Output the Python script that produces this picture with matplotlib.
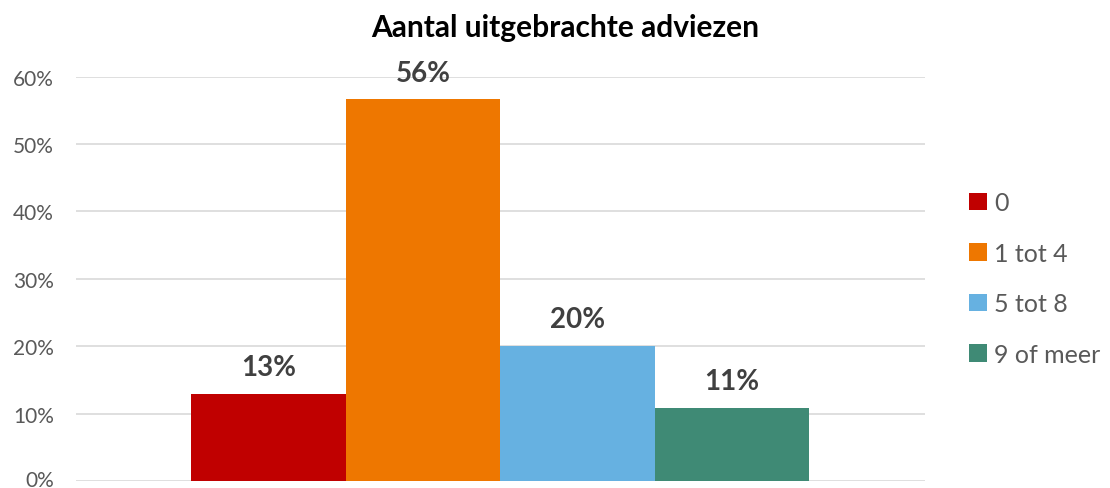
import numpy as np
import matplotlib.pyplot as plt
import matplotlib.transforms as mtransforms
from matplotlib.ticker import PercentFormatter

# Data
categories = ["0", "1 tot 4", "5 tot 8", "9 of meer"]
values = [0.129, 0.566, 0.200, 0.108]
labels = ["13%", "56%", "20%", "11%"]
colors = ["#C00000", "#EE7700", "#66B1E1", "#3F8A75"]

plt.rcParams["font.family"] = ["Lato", "DejaVu Sans"]

fig = plt.figure(figsize=(11.1, 4.89), dpi=100)
ax = fig.add_axes([0.0685, 0.0143, 0.7645, 0.8272])

width = 0.182
offsets = (np.arange(len(categories)) - 1.5) * width
for off, v, lab, c, cat in zip(offsets, values, labels, colors, categories):
    ax.bar(off, v, width=width, color=c, label=cat, zorder=3)
    ax.text(off, v + 0.028, lab, ha="center", va="baseline",
            fontsize=20, fontweight="bold", color="#404040")

ax.set_xlim(-0.5, 0.5)
ax.set_ylim(0, 0.6)
ax.set_yticks(np.arange(0, 0.61, 0.1))
ax.yaxis.set_major_formatter(PercentFormatter(1.0, decimals=0))
ax.set_xticks([])
ax.tick_params(axis="y", length=0, labelsize=15, labelcolor="#595959", pad=16)
ax.grid(axis="y", color="#D9D9D9", linewidth=1.2, zorder=0)
for s in ax.spines.values():
    s.set_visible(False)

# nudge the 0% label up a touch so it stays inside the figure
lbl0 = ax.get_yticklabels()[0]
lbl0.set_transform(lbl0.get_transform() +
                   mtransforms.ScaledTranslation(0, 2.5 / 72, fig.dpi_scale_trans))

fig.text(0.509, 0.943, "Aantal uitgebrachte adviezen", ha="center", va="center",
         fontsize=21.5, fontweight="bold", color="#000000")

fig.legend(loc="center left", bbox_to_anchor=(0.873, 0.428), frameon=False,
           fontsize=18, labelcolor="#595959", handlelength=0.7, handleheight=0.7,
           handletextpad=0.3, labelspacing=1.1, borderpad=0, borderaxespad=0)

fig.savefig("out.png", dpi=100)
